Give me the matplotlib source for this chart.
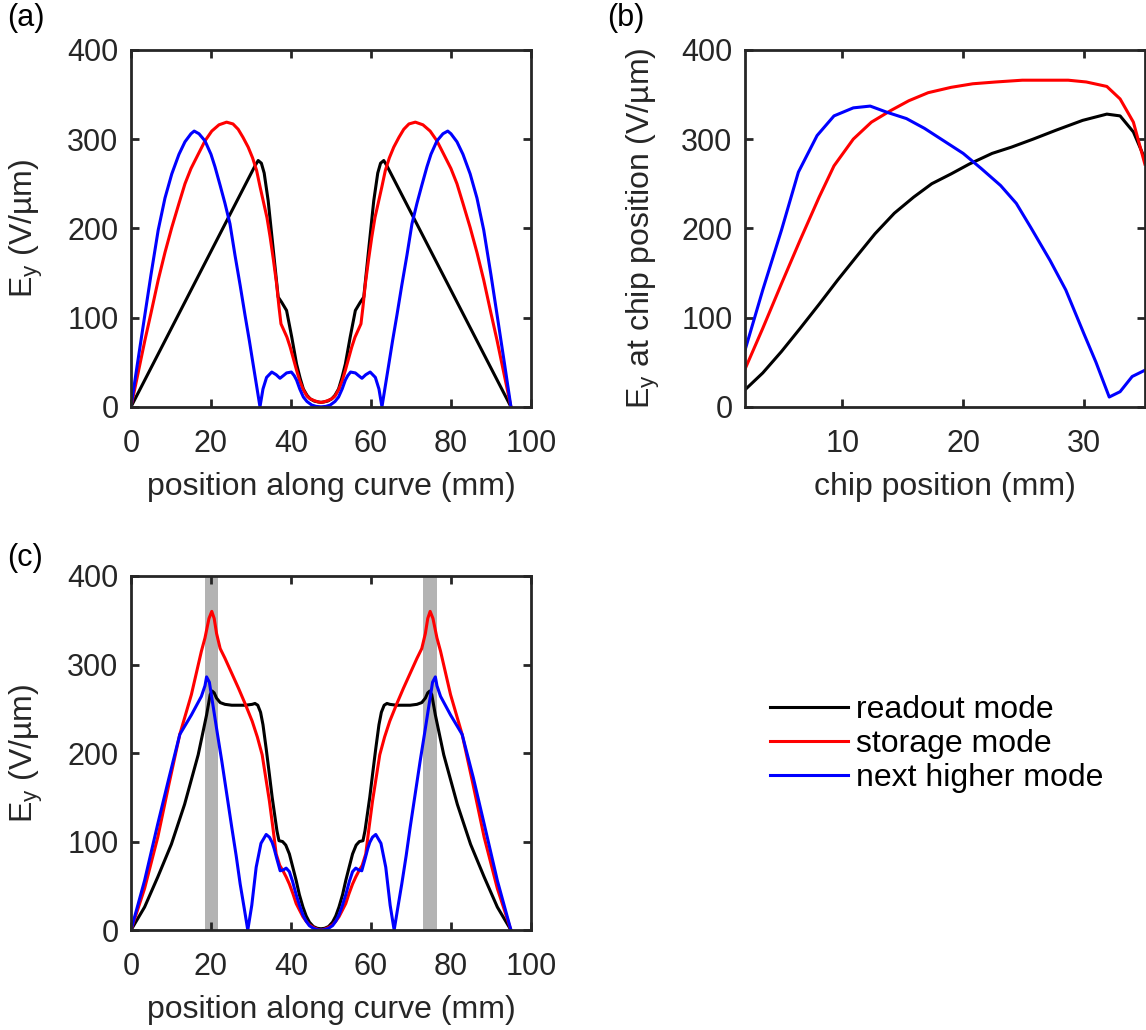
import matplotlib
matplotlib.use("Agg")
import matplotlib.pyplot as plt

plt.rcParams['font.family'] = ['Liberation Sans', 'DejaVu Sans']
plt.rcParams['mathtext.default'] = 'regular'

# ---- panel (a): modes along curve ----
black_a_x = [0, 31.0, 31.8, 32.6, 33.3, 34.3, 35.6, 36.8, 37.7, 38.9, 40.2, 41.4, 42.3, 43.1, 44.0, 44.8, 45.8, 46.8, 47.5,
             48.2, 49.2, 50.2, 51.0, 51.9, 52.7, 53.6, 54.8, 56.1, 57.3, 58.2, 59.4, 60.7, 61.7, 62.4, 63.2, 64.0, 95]
black_a_y = [0, 270, 276, 273, 262, 231, 175, 123, 117, 108, 78, 48, 32, 20, 13, 9, 6.5, 5.5, 5,
             5.5, 6.5, 9, 13, 20, 32, 48, 78, 108, 117, 123, 175, 231, 262, 273, 276, 270, 0]

red_a_x = [0, 1.5, 3.5, 5, 6.8, 8.5, 10.2, 12, 13.5, 15, 16.8, 18.5, 20.2, 22, 23.9, 25.5, 26.8, 28, 29.3, 30.4, 31.4,
           32.3, 33.1, 34.0, 34.8, 35.6, 36.4, 37.0, 37.5, 38.1, 39.0, 39.8, 40.6, 41.4, 42.2, 43.1, 44.0, 44.8, 45.8, 46.8, 47.5,
           48.2, 49.2, 50.2, 51.0, 51.9, 52.8, 53.6, 54.4, 55.2, 56.0, 56.9, 57.5, 58.0, 58.6, 59.4, 60.2, 61.0, 61.9, 62.7,
           63.6, 64.6, 65.7, 67.0, 68.2, 69.5, 71.1, 73.0, 74.8, 76.5, 78.2, 80.0, 81.5, 83.0, 84.8, 86.5, 88.2, 90.0, 91.5, 93.5, 95]
red_a_y = [0, 32, 75, 105, 142, 173, 201, 228, 250, 267, 283, 298, 309, 316, 319, 317, 311, 302, 291, 279, 265,
           246, 230, 212, 190, 165, 138, 112, 93, 87, 78, 67, 54, 41, 29, 19, 12, 9, 7, 5.5, 5,
           5.5, 7, 9, 12, 19, 29, 41, 54, 67, 78, 87, 93, 112, 138, 165, 190, 212, 230, 246,
           265, 279, 291, 302, 311, 317, 319, 316, 309, 298, 283, 267, 250, 228, 201, 173, 142, 105, 75, 32, 0]

blue_a_x = [0, 1.5, 3.5, 5, 6.8, 8.5, 10.2, 12, 13.5, 15, 15.8, 17, 18.5, 20, 21, 22.3, 23.5, 24.75, 26, 27.3, 28.5,
            29.6, 30.6, 31.5, 32.25, 33.0, 33.9, 35.2, 36.3, 37.25, 38.1, 38.9, 40.1, 40.8, 41.4, 42.2, 43.1, 44.0, 45.2,
            46.3, 47.5, 48.7, 49.8, 51.0, 51.9, 52.8, 53.6, 54.2, 54.9, 56.1, 56.9, 57.75, 58.7, 59.8, 61.1, 62.0, 62.75,
            63.5, 64.4, 65.4, 66.5, 67.7, 69.0, 70.25, 71.5, 72.7, 74.0, 75.0, 76.5, 78.0, 79.2, 80.0, 81.5, 83.0, 84.8,
            86.5, 88.2, 90.0, 91.5, 93.5, 95]
blue_a_y = [0, 45, 104, 148, 198, 234, 261, 283, 297, 306, 309, 306, 298, 283, 269, 248, 228, 205, 170, 136, 103,
            74, 46, 21, 0, 20, 33, 39, 36, 32, 35, 38, 39, 35, 30, 20, 11, 6, 2,
            0.5, 0, 0.5, 2, 6, 11, 20, 30, 35, 39, 38, 35, 32, 36, 39, 33, 20, 0,
            21, 46, 74, 103, 136, 170, 205, 228, 248, 269, 283, 298, 306, 309, 306, 297, 283, 261,
            234, 198, 148, 104, 45, 0]

# ---- panel (b): field at chip position ----
black_b_x = [1.92, 3.4, 4.95, 6.5, 8.07, 9.6, 11.2, 12.7, 14.3, 15.9, 17.4, 19.0, 20.5, 22.4, 24.0, 25.8, 27.7, 29.9,
             31.9, 33.0, 34.1, 35.05]
black_b_y = [19, 38, 62, 88, 115, 142, 169, 194, 217, 235, 250, 261, 272, 284, 291, 300, 310, 321, 328, 326, 308, 278]

red_b_x = [1.92, 3.4, 4.95, 6.5, 8.07, 9.3, 10.9, 12.4, 14.0, 15.5, 17.1, 19.0, 20.8, 22.7, 24.9, 27.1, 28.7, 30.2,
           31.9, 33.0, 34.1, 35.05]
red_b_y = [42, 88, 138, 187, 235, 270, 300, 319, 332, 343, 352, 358, 362, 364, 366, 366, 366, 364, 359, 345, 319, 272]

blue_b_x = [1.92, 3.4, 4.95, 6.35, 7.9, 9.3, 10.9, 12.3, 13.7, 15.3, 16.8, 18.4, 20.0, 21.5, 23.1, 24.4, 25.6, 27.2,
            28.5, 30.0, 31.0, 32.1, 33.0, 34.0, 35.05]
blue_b_y = [63, 131, 198, 263, 304, 326, 335, 337, 330, 323, 312, 298, 284, 267, 248, 228, 201, 164, 131, 82, 50, 11,
            17, 34, 41]

# ---- panel (c): modified geometry ----
black_c_x = [0, 3.4, 6.7, 10.1, 13.4, 16.8, 18.9, 19.8, 20.3, 20.8, 21.4, 22.3, 23.5, 25.2, 26.9, 28.6, 30.3, 31.0,
             31.7, 32.4, 33.0, 33.8, 34.6, 35.3, 35.9, 36.5, 37.0, 37.9, 38.7, 39.6, 40.4, 41.3, 42.1, 43.0, 43.8, 44.6,
             45.6, 46.6, 47.5,
             48.4, 49.4, 50.4, 51.2, 52.0, 52.9, 53.7, 54.6, 55.4, 56.3, 57.1, 58.0, 58.5, 59.1, 59.7, 60.4, 61.2, 62.0,
             62.6, 63.3, 64.0, 64.7, 66.4, 68.1, 69.8, 71.5, 72.7, 73.6, 74.2, 74.7, 75.2, 76.1, 78.2, 81.6, 84.9, 88.3,
             91.6, 95]
black_c_y = [0, 26, 60, 97, 142, 198, 243, 266, 270, 268, 262, 257, 255, 254, 254, 254, 255, 256,
             254, 246, 232, 205, 176, 150, 131, 112, 101, 100, 96, 86, 72, 56, 40, 26, 16, 9,
             4, 2, 1.5,
             2, 4, 9, 16, 26, 40, 56, 72, 86, 96, 100, 101, 112, 131, 150, 176, 205, 232,
             246, 254, 256, 255, 254, 254, 254, 255, 257, 262, 268, 270, 266, 243, 198, 142, 97, 60,
             26, 0]

red_c_x = [0, 3.4, 6.7, 9.5, 12.2, 15.1, 17.6, 18.5, 19.5, 20.2, 20.8, 21.4, 22.3, 23.5, 25.2, 26.9, 28.6, 30.3, 31.6,
           32.8, 33.7, 34.6, 35.5, 36.3, 37.2, 38.0, 38.8, 39.6, 40.5, 41.3, 42.2, 43.0, 43.8, 44.6, 45.6, 46.6, 47.5,
           48.4, 49.4, 50.4, 51.2, 52.0, 52.8, 53.7, 54.5, 55.4, 56.2, 57.0, 57.8, 58.7, 59.5, 60.4, 61.3, 62.2, 63.4,
           64.7, 66.4, 68.1, 69.8, 71.5, 72.7, 73.6, 74.2, 74.8, 75.5, 76.5, 77.4, 79.9, 82.8, 85.5, 88.3, 91.6, 95]
red_c_y = [0, 47, 105, 165, 221, 266, 315, 330, 352, 360, 352, 335, 318, 307, 290, 273, 255, 236, 218,
           198, 172, 146, 115, 86, 73, 67, 60, 52, 41, 30, 22, 15, 10, 6, 3, 1, 0,
           1, 3, 6, 10, 15, 22, 30, 41, 52, 60, 67, 73, 86, 115, 146, 172, 198, 218,
           236, 255, 273, 290, 307, 318, 335, 352, 360, 352, 330, 315, 266, 221, 165, 105, 47, 0]

blue_c_x = [0, 3.4, 6.7, 9.5, 12.2, 15.1, 17.6, 18.5, 18.9, 19.6, 20.6, 21.6, 22.7, 24.0, 25.2, 26.3, 27.3, 28.3, 29.2,
            30.2, 31.3, 32.5, 33.8, 34.6, 35.3, 35.8, 36.5, 37.3, 38.1, 38.8, 39.6, 40.4, 41.3, 42.2, 43.0, 43.8, 44.6,
            45.6, 46.6, 47.5,
            48.4, 49.4, 50.4, 51.2, 52.0, 52.8, 53.7, 54.6, 55.4, 56.2, 56.9, 57.7, 58.5, 59.2, 59.7, 60.4, 61.2, 62.5,
            63.7, 64.8, 65.8, 66.7, 67.7, 68.8, 69.8, 71.0, 72.3, 73.4, 74.4, 75.4, 76.1, 76.5, 77.4, 79.9, 82.8, 85.6,
            88.3, 91.6, 95]
blue_c_y = [0, 56, 120, 172, 221, 243, 264, 276, 286, 280, 251, 222, 191, 152, 116, 84, 52, 25, 0,
            28, 71, 98, 108, 105, 99, 92, 80, 67, 68, 70, 66, 55, 40, 27, 17, 10, 5,
            2, 0.5, 0,
            0.5, 2, 5, 10, 17, 27, 40, 55, 66, 70, 68, 67, 80, 92, 99, 105, 108, 98,
            71, 28, 0, 25, 52, 84, 116, 152, 191, 222, 251, 280, 286, 276, 264, 243, 221, 172,
            120, 56, 0]

band_spans = [(18.4, 21.8), (73.1, 76.4)]

curve_ticks = [0, 20, 40, 60, 80, 100]
chip_ticks = [10, 20, 30]
field_ticks = [0, 100, 200, 300, 400]
legend_labels = ['readout mode', 'storage mode', 'next higher mode']
ink = '#262626'
lw = 2.2
fs = 23

fig = plt.figure(figsize=(11.46, 10.30), dpi=100)
ax_a = fig.add_axes([0.1143, 0.605, 0.349, 0.3466])
ax_b = fig.add_axes([0.650, 0.605, 0.349, 0.3466])
ax_c = fig.add_axes([0.1143, 0.097, 0.349, 0.3438])


def style(ax):
    for s in ax.spines.values():
        s.set_linewidth(2.0)
        s.set_color(ink)
    ax.tick_params(direction='in', length=6, width=2, colors=ink, labelsize=22,
                   top=True, right=True)
    ax.tick_params(axis='y', pad=9)
    ax.tick_params(axis='x', pad=16)
    ax.set_ylim(0, 400)
    ax.set_yticks(field_ticks)


ax_a.plot(black_a_x, black_a_y, color='black', lw=lw)
ax_a.plot(red_a_x, red_a_y, color='red', lw=lw)
ax_a.plot(blue_a_x, blue_a_y, color='blue', lw=lw)
ax_a.set_xlim(0, 100)
ax_a.set_xticks(curve_ticks)
style(ax_a)
ax_a.set_xlabel('position along curve (mm)', fontsize=fs, color=ink, labelpad=9)
ax_a.set_ylabel('E$_y$ (V/µm)', fontsize=fs, color=ink, labelpad=16)

ax_b.plot(black_b_x, black_b_y, color='black', lw=lw)
ax_b.plot(red_b_x, red_b_y, color='red', lw=lw)
ax_b.plot(blue_b_x, blue_b_y, color='blue', lw=lw)
ax_b.set_xlim(1.92, 35.05)
ax_b.set_xticks(chip_ticks)
style(ax_b)
ax_b.set_xlabel('chip position (mm)', fontsize=fs, color=ink, labelpad=9)
ax_b.set_ylabel('E$_y$ at chip position (V/µm)', fontsize=fs, color=ink, labelpad=14)

for lo, hi in band_spans:
    ax_c.axvspan(lo, hi, color='#b3b3b3', lw=0, zorder=0)
h1, = ax_c.plot(black_c_x, black_c_y, color='black', lw=lw)
h2, = ax_c.plot(red_c_x, red_c_y, color='red', lw=lw)
h3, = ax_c.plot(blue_c_x, blue_c_y, color='blue', lw=lw)
ax_c.set_xlim(0, 100)
ax_c.set_xticks(curve_ticks)
style(ax_c)
ax_c.set_xlabel('position along curve (mm)', fontsize=fs, color=ink, labelpad=9)
ax_c.set_ylabel('E$_y$ (V/µm)', fontsize=fs, color=ink, labelpad=16)

fig.legend([h1, h2, h3], legend_labels, loc='upper left', bbox_to_anchor=(0.647, 0.353),
           frameon=False, fontsize=fs, handlelength=2.45, handletextpad=0.22, labelspacing=0.12)

fig.text(0.006, 0.997, '(a)', fontsize=22, va='top', ha='left')
fig.text(0.530, 0.997, '(b)', fontsize=22, va='top', ha='left')
fig.text(0.006, 0.473, '(c)', fontsize=22, va='top', ha='left')

fig.savefig('out.png', dpi=100)
